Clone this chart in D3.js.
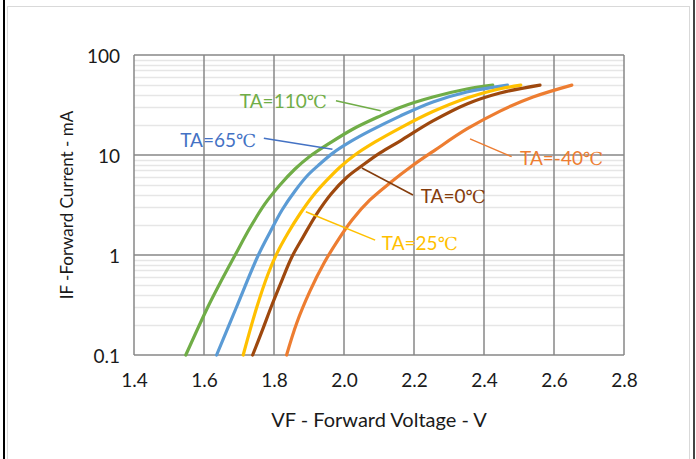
<!DOCTYPE html>
<html>
<head>
<meta charset="utf-8">
<script src="https://cdn.jsdelivr.net/npm/d3@7/dist/d3.min.js"></script>
<style>
  html, body { margin: 0; padding: 0; background: #fff; }
  svg { display: block; }
  text { font-family: Lato, "Open Sans", sans-serif; }
</style>
</head>
<body>
<svg id="chart" width="696" height="459"></svg>
<script>
// Forward voltage (V) vs forward current (mA) at five ambient temperatures
const ta110 = [[1.548,0.1],[1.611,0.302],[1.646,0.525],[1.689,1.0],[1.731,1.86],[1.774,3.24],
  [1.817,5.01],[1.860,7.24],[1.900,9.55],[1.960,13.2],[2.026,18.2],[2.103,24.5],[2.160,29.9],
  [2.254,38.0],[2.351,45.7],[2.425,50]];
const ta65 = [[1.636,0.1],[1.693,0.302],[1.754,0.977],[1.789,1.70],[1.823,2.82],[1.860,4.37],
  [1.897,6.31],[1.931,8.13],[1.969,10.5],[2.017,13.5],[2.074,17.4],[2.160,24.5],[2.254,33.9],
  [2.351,42.7],[2.467,50]];
const ta25 = [[1.712,0.1],[1.751,0.302],[1.783,0.646],[1.809,1.05],[1.840,1.66],[1.874,2.57],
  [1.911,3.89],[1.949,5.50],[1.989,7.59],[2.031,10.0],[2.089,13.5],[2.160,18.6],[2.254,27.2],
  [2.351,37.2],[2.431,44.7],[2.505,50]];
const ta0 = [[1.739,0.1],[1.766,0.174],[1.794,0.316],[1.823,0.562],[1.851,0.955],[1.883,1.51],
  [1.920,2.51],[1.963,4.07],[2.009,6.03],[2.054,7.94],[2.103,10.5],[2.160,13.8],[2.254,21.9],
  [2.351,32.4],[2.446,41.7],[2.560,50]];
const taMinus40 = [[1.836,0.1],[1.865,0.209],[1.903,0.437],[1.943,0.832],[1.983,1.41],[2.023,2.24],
  [2.074,3.55],[2.131,5.25],[2.194,7.76],[2.260,11.2],[2.351,18.2],[2.446,27.5],[2.540,38.0],
  [2.651,50]];

const xTicks = [1.4, 1.6, 1.8, 2.0, 2.2, 2.4, 2.6, 2.8];
const yTicks = [0.1, 1, 10, 100];
const yTickLabels = ["0.1", "1", "10", "100"];

const series = [
  { name: "TA=110℃", values: ta110, color: "#70AD47", textColor: "#70AD47",
    text: [1.951, 34.1], lead: [[1.977, 34.9], [2.105, 27.7]], anchor: "end" },
  { name: "TA=65℃", values: ta65, color: "#5B9BD5", textColor: "#4472C4",
    text: [1.749, 14.1], lead: [[1.771, 14.7], [1.967, 11.4]], anchor: "end" },
  { name: "TA=25℃", values: ta25, color: "#FFC000", textColor: "#FFC000",
    text: [2.108, 1.32], lead: [[1.891, 2.71], [2.089, 1.41]], anchor: "start" },
  { name: "TA=0℃", values: ta0, color: "#9E480E", textColor: "#843C0C",
    text: [2.219, 3.83], lead: [[2.051, 7.41], [2.197, 3.98]], anchor: "start" },
  { name: "TA=-40℃", values: taMinus40, color: "#ED7D31", textColor: "#ED7D31",
    text: [2.503, 9.27], lead: [[2.360, 14.5], [2.479, 9.62]], anchor: "start" }
];

const svg = d3.select("#chart");
const margin = { left: 134, right: 72, top: 55, bottom: 104 };
const W = 696, H = 459;

// outer frame
svg.append("line").attr("x1", 4).attr("x2", 4).attr("y1", 0).attr("y2", H)
  .attr("stroke", "#000").attr("stroke-width", 2);
svg.append("line").attr("x1", 694).attr("x2", 694).attr("y1", 0).attr("y2", H)
  .attr("stroke", "#444").attr("stroke-width", 2);
svg.append("rect").attr("x", 7.5).attr("y", 6.5).attr("width", 682).attr("height", 470)
  .attr("fill", "none").attr("stroke", "#d9d9d9").attr("stroke-width", 1);

const x = d3.scaleLinear().domain([1.4, 2.8]).range([margin.left, W - margin.right]);
const y = d3.scaleLog().domain([0.1, 100]).range([H - margin.bottom, margin.top]);

// minor horizontal grid (2..9 in each decade)
const minor = [];
for (let d = 0.1; d < 100; d *= 10) for (let k = 2; k <= 9; k++) minor.push(+(d * k).toPrecision(3));
svg.append("g").selectAll("line").data(minor).join("line")
  .attr("x1", x(1.4)).attr("x2", x(2.8))
  .attr("y1", d => Math.round(y(d)) + 0.5).attr("y2", d => Math.round(y(d)) + 0.5)
  .attr("stroke", "#e6e6e6").attr("stroke-width", 1.5);

// major grid
svg.append("g").selectAll("line").data(xTicks).join("line")
  .attr("x1", d => x(d)).attr("x2", d => x(d))
  .attr("y1", y(100)).attr("y2", y(0.1))
  .attr("stroke", "#878787").attr("stroke-width", 1.5);
svg.append("g").selectAll("line").data(yTicks).join("line")
  .attr("x1", x(1.4)).attr("x2", x(2.8))
  .attr("y1", d => y(d)).attr("y2", d => y(d))
  .attr("stroke", "#878787").attr("stroke-width", 1.5);

// axes (labels only; the grid draws the lines)
const xAxis = d3.axisBottom(x).tickValues(xTicks).tickFormat(d3.format(".1f")).tickSize(0).tickPadding(19);
const gx = svg.append("g").attr("transform", `translate(0,${y(0.1)})`).call(xAxis);
gx.select(".domain").remove();
gx.selectAll("text").attr("font-size", 19).attr("fill", "#1a1a1a").style("font-family", "Lato, sans-serif");

const yAxis = d3.axisLeft(y).tickValues(yTicks).tickFormat((d, i) => yTickLabels[i]).tickSize(0).tickPadding(14);
const gy = svg.append("g").attr("transform", `translate(${x(1.4)},0)`).call(yAxis);
gy.select(".domain").remove();
gy.selectAll("text").attr("font-size", 19).attr("fill", "#1a1a1a").attr("dy", "0.42em").style("font-family", "Lato, sans-serif");

// axis titles
svg.append("text").attr("x", (x(1.4) + x(2.8)) / 2).attr("y", 427)
  .attr("text-anchor", "middle").attr("font-size", 20).attr("fill", "#1a1a1a")
  .text("VF - Forward Voltage - V");
svg.append("text").attr("transform", `translate(73,${(y(0.1) + y(100)) / 2}) rotate(-90)`)
  .attr("text-anchor", "middle").attr("font-size", 17).attr("fill", "#1a1a1a")
  .text("IF -Forward Current -  mA");

// curves
const line = d3.line().x(d => x(d[0])).y(d => y(d[1])).curve(d3.curveCatmullRom.alpha(0.5));
svg.append("g").selectAll("path").data(series).join("path")
  .attr("d", d => line(d.values))
  .attr("fill", "none").attr("stroke", d => d.color).attr("stroke-width", 3.2)
  .attr("stroke-linecap", "round");

// labels with leader lines
const lab = svg.append("g");
series.forEach(s => {
  lab.append("line")
    .attr("x1", x(s.lead[0][0])).attr("y1", y(s.lead[0][1]))
    .attr("x2", x(s.lead[1][0])).attr("y2", y(s.lead[1][1]))
    .attr("stroke", s.textColor).attr("stroke-width", 1.5);
  const t = lab.append("text")
    .attr("x", x(s.text[0])).attr("y", y(s.text[1]))
    .attr("dy", "0.35em").attr("text-anchor", s.anchor)
    .attr("font-size", 19).attr("fill", s.textColor);
  const base = s.name.replace("℃", "");
  t.append("tspan").text(base);
  t.append("tspan").style("font-family", "'DejaVu Serif', serif").attr("font-size", 18).text("℃");
});
</script>
</body>
</html>
